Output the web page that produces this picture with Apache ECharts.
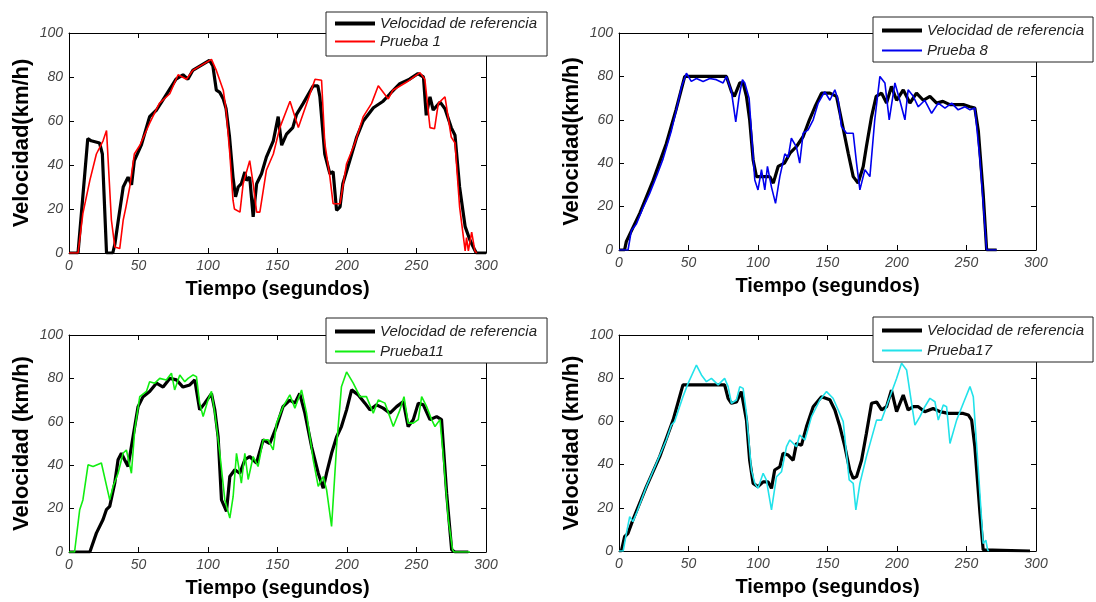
<!DOCTYPE html>
<html>
<head>
<meta charset="utf-8">
<script src="https://cdn.jsdelivr.net/npm/echarts@6/dist/echarts.min.js"></script>
<style>
html,body{margin:0;padding:0;background:#fff;}
#chart{width:1096px;height:602px;}
</style>
</head>
<body>
<div id="chart"></div>
<script>
// ---- Data (time in seconds, speed in km/h) ----
const xTicks = [0, 50, 100, 150, 200, 250, 300];
const yTicks = [0, 20, 40, 60, 80, 100];
const refName = 'Velocidad de referencia';
const testNames = ['Prueba 1', 'Prueba 8', 'Prueba11', 'Prueba17'];
const yTitles = ['Velocidad(km/h)', 'Velocidad(km/h)', 'Velocidad (km/h)', 'Velocidad (km/h)'];
const xTitle = 'Tiempo (segundos)';

// Panel 1
const p1RefT = [0,6.5,13.5,16,22,24,27,31.5,33,35.5,39,42.5,45,47,52,58,63,70,77,82,85.5,89,101,103.5,106,108.5,111,113,115.5,118,119.8,121.7,124,126.5,127.7,130,132.5,135,138.5,142,147,150.5,153,156.5,161,163.7,168.5,175.7,179,180.5,184,187.7,190,192.5,195,197,202,207,211.7,219,226,231,238,245,251,255,257,259.7,262,267,270.5,275,277.7,281,285,288.5,292,293,300];
const p1RefV = [0,0,52,51,50,45,0,0,4,15,30,34.5,31,42,49,62,65,72,79,81,79,83,87.6,85,74,73,70,65.6,52.7,34.5,25.5,30,31.5,36.8,33,34.5,16.4,31.5,36,43.6,51,62,49,54,57,63,68,76,76,71,45,36,37,19.4,21,31.5,42,52.7,60,66,69,72.4,77,79,81.5,80,62.6,71,65,68.6,65.6,57,53.5,30,12,5.8,1.2,0,0];
const p1TestT = [0,6.5,10,15,19.7,24.5,27,28,30.5,33,36.5,39,41,43.7,47,51,58,65,72.5,78.5,84.5,89,102.5,106,111,113,115.7,118,119,123,125.3,130,132.5,135,137.3,142,147,151.7,159,165,171,177,181.7,184,187.7,190,195,199.7,205.7,211.7,217.7,222.5,229.7,233,243,252.5,256,259.7,263,265.7,270.5,275,277.7,281,285,286,287.3,289.7,292,293.3];
const p1TestV = [0,0,18,33,45,51,55.7,56,15,2.7,2,15,21,30,45,49,59,68,72.4,81,79,83,88,83,74,65,45,24,20,18.6,31.5,42,31.5,18.6,18.6,37.6,45,57,69,57,68,79,78.5,50,34.5,22.4,22.4,40.6,50,62,68,76,70,74,77.7,82,79,57,56.5,68,71,52.7,50,21,1,7,1,9.5,1,0];

// Panel 2
const p2RefT = [0,4,5.3,15,24.5,34,41,47.3,60,77.3,80.9,83,86.9,89.3,91.7,94,96.5,98.9,108.5,111,114.5,119,123,127.7,132.5,137,141,145.7,151.7,156.5,160,164.9,168.5,172,175.7,178,181.7,185,188.9,192.5,196,199.7,204.5,209.3,214,218.9,223.7,228.5,233,238,242.9,247.7,252.5,256,258.5,262,264.5,271.7];
const p2RefV = [0,0,4,17,32,49,64.6,80,80,80,73,70.8,77,77,70.8,60,41.5,33.8,33.8,30.8,38.5,40,44.6,47.7,52.3,60,66,72.3,72.3,70.8,60,44.6,33.8,30.8,38.5,47.7,61.5,70.8,72.3,67.7,75.4,69,73.8,67.7,72.3,69,70.8,67.7,68.5,67,67,67,66,65.4,55,26,0,0];
const p2TestT = [0,6.5,8.9,12.5,17,22,27,31.7,37.7,41.3,44.9,48.5,52,55.7,60.5,65.3,70,74.9,77.3,80.9,84,86.4,88.8,90.5,93.6,96,97.7,100,102.5,104.9,106.8,109.7,112.6,115.7,119.3,121.7,124,127.7,130,132.5,136,139.7,143.3,148,151.7,155.3,157.7,160,163.7,168.5,170.9,173.3,176.9,180.5,184,187.7,191.3,194.4,198.5,202,205.7,208,211.7,215.3,220,224.9,229.7,234.5,239.3,244,248.9,252.5,256,259.7,264.5,271.7];
const p2TestV = [0,0,9,12,19,26,34,42,55,64.6,75,81.5,77.7,79,77.7,79,78.5,77,80,73,59,70.8,78.5,77,70,47.7,32.3,27.7,37,27.7,38.5,29,21.5,33.8,44.3,42.7,51.5,47.4,40,53.8,55.4,60,67.7,73,69,73.8,69,57,53.8,53.8,40,27.7,37,33.8,60,80,77,60,77,69,60,73.8,70.8,66,69,63,67.7,65.4,67.7,64.6,66,64.6,65.4,41.5,0,0];

// Panel 3
const p3RefT = [0,15,19.7,24.5,26.9,29.3,32.9,35.3,37.7,40,42.5,44.9,47.3,49.7,53.3,58,62.9,67.7,72.5,77.3,82,86.9,90.5,94,97.7,102.5,104.9,107.3,109.7,113.3,115.7,119.3,122.9,126.5,130,134.9,139.7,144.5,149.3,154,158.9,162.5,166,169.7,174.5,179.3,182.9,185.3,188.9,192.5,196,199.7,203.3,208.1,212.9,216.5,221.3,226,230.9,235.7,240.5,244,247.7,251.3,254.9,259.7,264.5,268,271.7,275.3,277.7,287.3];
const p3RefV = [0,0,8.7,15,19.5,21,31.7,42.5,45.5,42.5,39.4,48.6,57.8,67,71.6,74,77.8,76,80,79.3,76,77,79.3,65.5,68.6,73,65.5,53,24,18.7,34.8,37.9,36.3,42.5,44,41,51.7,50,57.8,67,70,68.6,73,64,48.6,36.3,29.4,36.3,45.5,53,57.8,65.5,74.7,72.4,68.6,65.5,67.8,66.3,64,67,69.3,57.8,61,68.6,67.8,61,62.4,61,27,1,0,0];
const p3TestT = [0,4,7.7,10,13.7,17.3,23.3,29.3,31.7,35.3,38.9,41.3,44.9,47.3,50.9,55.7,58,61.7,65.3,70,73.7,76,79.7,83.3,85.7,89.3,91.7,94,96.5,100,102.5,104.9,108.5,112.1,115.7,118.1,120.5,124,126.5,128.9,132.5,136,139.7,143.3,146.9,149.3,154,158.9,162.5,167.3,170.9,175.7,179.3,182.9,185.3,188.9,192.5,196,199.7,204.5,209.3,214,218.9,222.5,227.3,233.3,238.1,241,244,247.7,251.3,253.7,257.3,260.9,263.3,266.9,269.3,272.9,276,277,288.5];
const p3TestV = [0,0,19.5,24,40.2,39.4,41,24,30.2,36.3,45.5,47,36.3,56.3,71.6,74,78.5,77.8,80,79.3,82.4,74.7,81.6,78.5,80,81.6,80.8,68.6,62.4,70,74,64,45.5,24,15.6,25.6,45.5,31.7,45.5,33.4,44,39.4,51.7,51.7,47,59.4,67,72.4,66.3,74.7,64,42.5,30.2,34.8,28.7,11.8,48.6,76.2,83,77.8,71.6,71.6,64,70,68.6,57.8,65.5,71.6,59.4,59.4,61,71.6,67,61,57.8,61,44,15,1,0,0];

// Panel 4
const p4RefT = [0,1.7,4,6.5,10,19.7,29.3,38.9,46,50.9,58,65.3,70,76,78.5,80.9,84.5,88,91.7,94,96.5,100,103.7,107.3,109.7,112,115.7,118,121.7,125.3,127.7,131.3,134.9,139.7,145.7,151.7,155.3,158.9,162.5,166,168.5,170.9,174.5,178,181.7,185.3,188.9,192.5,196,199.7,204.5,208,211.7,215.3,220,226,230.9,236.9,242.9,247.7,251.3,253.7,256,259.7,262,263,295.7];
const p4RefV = [0,0,6.6,8.2,14.4,29.8,43.7,60.6,76.9,76.9,76.9,76.9,76.9,76.9,70.7,68.4,69,73.8,60.6,42,31.3,29.8,32,32,29,37.5,39,45.2,44.4,42,49.8,49,57.6,66.8,71.4,70,65.3,57.6,48.3,37.5,33.6,34.4,42,54.5,68.4,69,65.3,66.8,74.5,64.5,72.2,65.3,66.8,66.8,64.5,66,64.5,63.7,63.7,63.7,63,60.6,48.3,17.4,0.5,0,0];
const p4TestT = [0,3,5.3,7.7,10,12.5,19.7,26.9,34,37.7,40,46,49.7,55.7,59.3,62.9,66.5,71.3,76,78.5,80.9,84.5,86.9,89.3,91.7,95.3,97.7,100,103.7,106,109.7,113.3,116.9,120.5,122.9,127.7,130,133.7,138.5,144.5,149.3,154,157.7,161.3,165.6,168.5,170.4,173.3,178,185.3,188.9,194.9,199.7,203.3,206.9,210.5,212.9,216.5,220,223.7,227.3,229.7,233.3,235.7,238.1,242.9,247.7,252.5,254.9,258.5,262,263.9,265.2,266];
const p4TestV = [0,0,8.2,15.9,13.6,17.4,29.8,40.6,51.4,58.3,59.9,71.4,77.6,86.1,81.5,78.4,79.9,76.9,79.9,76.1,68.4,69.9,76.1,75.3,63.7,37.5,31.3,29,36,32.9,19,34.4,36.7,48.3,51.4,48.3,53.7,51.4,62.2,69.9,73.8,70.7,65.3,59.9,32.9,31.3,19,31.3,43.7,60.6,60.6,71.4,79.9,86.9,83.8,68.4,58.3,62.2,66.8,70.7,69.1,60.6,67.6,66.8,49.8,60.6,68.4,76.1,71.4,37.5,3.5,5,0.5,0];

const refT = [p1RefT, p2RefT, p3RefT, p4RefT];
const refV = [p1RefV, p2RefV, p3RefV, p4RefV];
const testT = [p1TestT, p2TestT, p3TestT, p4TestT];
const testV = [p1TestV, p2TestV, p3TestV, p4TestV];
const testColors = ['#ff0000', '#0000ee', '#11ee11', '#22e2ea'];

// ---- Layout ----
const grids = [
  {left: 69, top: 33, width: 417, height: 220},
  {left: 619, top: 33, width: 417, height: 217},
  {left: 69, top: 335, width: 417, height: 217},
  {left: 619, top: 335, width: 417, height: 216}
];
const legendPos = [
  {left: 326, top: 12, padding: [4, 10, 7, 7], itemGap: 3},
  {left: 873, top: 17, padding: [6, 9, 4, 7], itemGap: 5},
  {left: 326, top: 318, padding: [6, 10, 4, 7], itemGap: 5},
  {left: 873, top: 317, padding: [6, 9, 4, 7], itemGap: 5}
];

function zip(t, v) { return t.map((x, i) => [x, v[i]]); }

const FONT = '"Liberation Sans", Arial, sans-serif';
const labelStyle = {fontFamily: FONT, fontStyle: 'italic', fontSize: 14, color: '#444'};
const xAxes = [], yAxes = [], series = [], legends = [];

grids.forEach((g, i) => {
  xAxes.push({
    type: 'value', gridIndex: i, min: xTicks[0], max: xTicks[xTicks.length - 1],
    interval: xTicks[1] - xTicks[0], position: 'bottom',
    name: xTitle, nameLocation: 'middle', nameGap: 26,
    nameTextStyle: {fontFamily: FONT, fontWeight: 'bold', fontSize: 20, color: '#000'},
    axisLine: {show: true, onZero: false, lineStyle: {color: '#000', width: 1}},
    axisTick: {show: true, inside: true, length: 5, lineStyle: {color: '#000'}},
    axisLabel: Object.assign({margin: 6}, labelStyle),
    splitLine: {show: false}
  });
  xAxes.push({
    type: 'value', gridIndex: i, min: xTicks[0], max: xTicks[xTicks.length - 1],
    interval: xTicks[1] - xTicks[0], position: 'top',
    axisLine: {show: true, onZero: false, lineStyle: {color: '#000', width: 1}},
    axisTick: {show: true, inside: true, length: 5, lineStyle: {color: '#000'}},
    axisLabel: {show: false}, splitLine: {show: false}
  });
  yAxes.push({
    type: 'value', gridIndex: i, min: yTicks[0], max: yTicks[yTicks.length - 1],
    interval: yTicks[1] - yTicks[0], position: 'left',
    name: yTitles[i], nameLocation: 'middle', nameGap: 36,
    nameTextStyle: {fontFamily: FONT, fontWeight: 'bold', fontSize: 22, color: '#000'},
    axisLine: {show: true, onZero: false, lineStyle: {color: '#000', width: 1}},
    axisTick: {show: true, inside: true, length: 5, lineStyle: {color: '#000'}},
    axisLabel: Object.assign({margin: 6}, labelStyle),
    splitLine: {show: false}
  });
  yAxes.push({
    type: 'value', gridIndex: i, min: yTicks[0], max: yTicks[yTicks.length - 1],
    interval: yTicks[1] - yTicks[0], position: 'right',
    axisLine: {show: true, onZero: false, lineStyle: {color: '#000', width: 1}},
    axisTick: {show: true, inside: true, length: 5, lineStyle: {color: '#000'}},
    axisLabel: {show: false}, splitLine: {show: false}
  });
  series.push({
    type: 'line', name: refName, xAxisIndex: 2 * i, yAxisIndex: 2 * i,
    data: zip(refT[i], refV[i]), symbol: 'none', showSymbol: false,
    lineStyle: {color: '#000', width: 3.2}, itemStyle: {color: '#000'}, z: 2
  });
  series.push({
    type: 'line', name: testNames[i], xAxisIndex: 2 * i, yAxisIndex: 2 * i,
    data: zip(testT[i], testV[i]), symbol: 'none', showSymbol: false,
    lineStyle: {color: testColors[i], width: 1.6}, itemStyle: {color: testColors[i]}, z: 3
  });
  const lp = legendPos[i];
  legends.push({
    orient: 'vertical', left: lp.left, top: lp.top, padding: lp.padding, itemGap: lp.itemGap,
    itemWidth: 40, itemHeight: 16, selectedMode: false,
    backgroundColor: '#fff', borderColor: '#222', borderWidth: 1, borderRadius: 0,
    itemStyle: {opacity: 0, borderWidth: 0},
    data: [
      {name: refName, lineStyle: {width: 4, color: '#000', opacity: 1}},
      {name: testNames[i], lineStyle: {width: 2, color: testColors[i], opacity: 1}}
    ],
    z: 20,
    textStyle: {fontFamily: FONT, fontStyle: 'italic', fontSize: 15, color: '#222'}
  });
});

const chart = echarts.init(document.getElementById('chart'), null, {renderer: 'canvas'});
chart.setOption({
  animation: false,
  backgroundColor: '#fff',
  grid: grids,
  xAxis: xAxes,
  yAxis: yAxes,
  legend: legends,
  series: series
});
</script>
</body>
</html>
